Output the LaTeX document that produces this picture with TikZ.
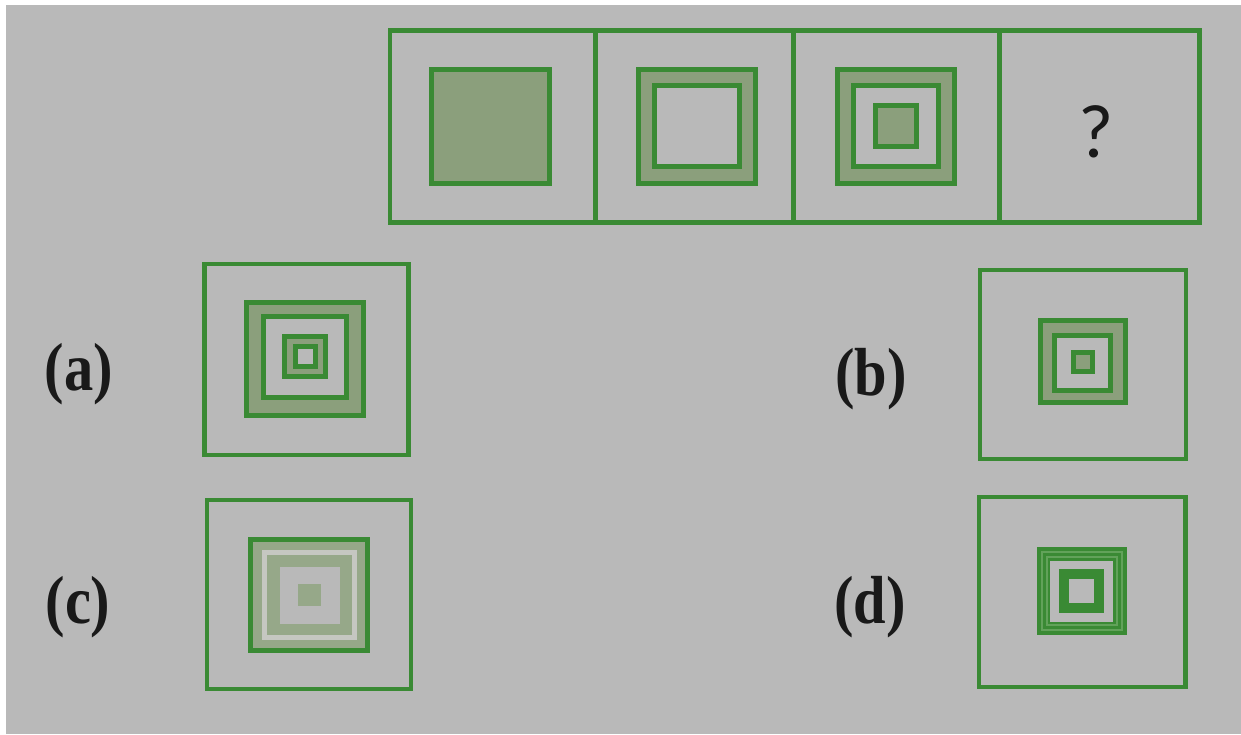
\documentclass[tikz,border=0pt]{standalone}
\usepackage{fontspec}
\usepackage{graphicx}
\setmainfont{Liberation Serif}
\newfontfamily\qfont{Carlito}
\definecolor{bgc}{RGB}{185,185,185}
\definecolor{gline}{RGB}{58,138,52}
\definecolor{gfill}{RGB}{139,159,124}
\definecolor{gfillc}{RGB}{150,168,137}
\definecolor{lightline}{RGB}{197,199,193}
\definecolor{lgreen}{RGB}{98,162,90}
\tikzset{
  frame/.style={draw=gline, line width=4.5pt},
  sqline/.style={draw=gline, line width=5pt},
  lab/.style={font=\fontsize{68}{68}\selectfont\bfseries, anchor=base, inner sep=0pt, text=black!90},
}
\begin{document}
\begin{tikzpicture}[x=1pt,y=-1pt]
\useasboundingbox (0,0) rectangle (1241,734);
\fill[white] (0,0) rectangle (1241,734);
\fill[bgc] (6,5) rectangle (1241,734);

% top row frame
\draw[frame] (390,30.5) rectangle (1199.5,222.5);
\draw[frame] (595.5,30.5) -- (595.5,222.5);
\draw[frame] (793.5,30.5) -- (793.5,222.5);
\draw[frame] (999.5,30.5) -- (999.5,222.5);

% cell 1
\filldraw[sqline, fill=gfill] (431.5,69.5) rectangle (549.5,183.5);
% cell 2
\filldraw[sqline, fill=gfill] (638.5,69.5) rectangle (755.5,183.5);
\filldraw[sqline, fill=bgc] (654.5,85.5) rectangle (739.5,166.5);
% cell 3
\filldraw[sqline, fill=gfill] (837.5,69.5) rectangle (954.5,183.5);
\filldraw[sqline, fill=bgc] (853.5,85.5) rectangle (938.5,166.5);
\filldraw[sqline, fill=gfill] (875.5,105.5) rectangle (916.5,146.5);
% cell 4
\node[font=\qfont\fontsize{76}{76}\selectfont, anchor=base, inner sep=0pt, text=black!90] (q) at (1096,157) {?};

% option (a)
\draw[frame] (204.5,264) rectangle (408.5,455);
\filldraw[sqline, fill=gfill] (246.5,302.5) rectangle (363.5,415);
\filldraw[sqline, fill=bgc] (263.2,316.5) rectangle (346.8,397.5);
\filldraw[sqline, fill=gfill] (284.5,336.5) rectangle (325.8,376.8);
\filldraw[sqline, fill=bgc] (295.2,346.8) rectangle (315.7,366.2);
\node[lab] (la) at (79,390) {\scalebox{0.86}[1]{(a)}};

% option (b)
\draw[frame] (980,270) rectangle (1186,459.2);
\filldraw[sqline, fill=gfill] (1040.8,320.8) rectangle (1125.2,402.5);
\filldraw[sqline, fill=bgc] (1054.8,335.2) rectangle (1110.8,390.2);
\filldraw[sqline, fill=gfill] (1073.2,352.5) rectangle (1092.5,371.8);
\node[lab] (lb) at (871,395) {\scalebox{0.86}[1]{(b)}};

% option (c)
\draw[frame] (207.2,500) rectangle (410.8,689.2);
\filldraw[sqline, fill=gfillc] (250.5,539.5) rectangle (367.5,650.5);
\draw[line width=5pt, draw=lightline] (264.5,552.5) rectangle (354.5,637.5);
\fill[bgc] (280,567) rectangle (340,624);
\fill[gfillc] (298,584) rectangle (321,606);
\node[lab] (lc) at (78,623) {\scalebox{0.86}[1]{(c)}};

% option (d)
\draw[frame] (978.8,497) rectangle (1185.5,687);
\fill[lgreen] (1037,547) rectangle (1127,635);
\fill[bgc] (1050,560.7) rectangle (1113.3,621.7);
\draw[draw=gline, line width=4pt] (1039,549) rectangle (1125,633);
\draw[draw=gline, line width=2.5pt] (1044.5,554.5) rectangle (1119.5,627.5);
\draw[draw=gline, line width=2.5pt] (1048.75,559.5) rectangle (1114.5,623);
\fill[gline] (1059,569) rectangle (1104,613);
\fill[bgc] (1069,579) rectangle (1094,603);
\node[lab] (ld) at (870,623) {\scalebox{0.86}[1]{(d)}};
\end{tikzpicture}
\end{document}
